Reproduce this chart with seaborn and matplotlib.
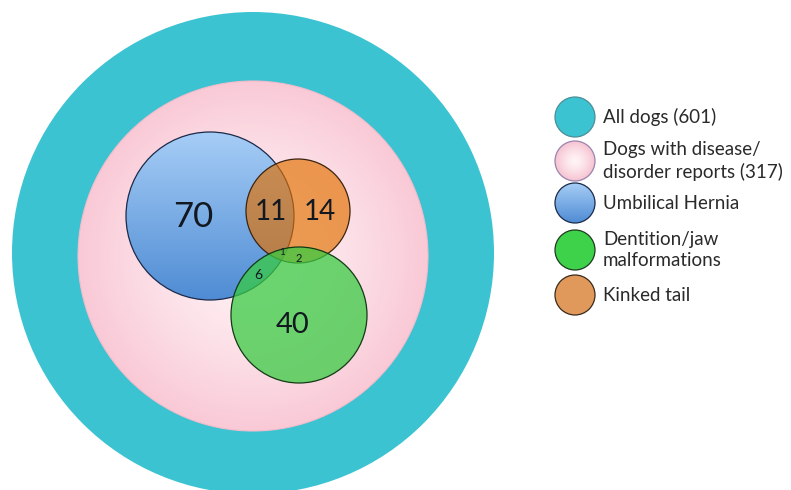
#!/usr/bin/env python3
"""Nested Euler diagram of dog disease/disorder reports."""

import matplotlib.pyplot as plt
import numpy as np
import seaborn as sns
from matplotlib.patches import Circle

# data
legend_labels = [
    "All dogs (601)",
    "Dogs with disease/\ndisorder reports (317)",
    "Umbilical Hernia",
    "Dentition/jaw\nmalformations",
    "Kinked tail",
]
region_counts = [70, 11, 14, 40, 6, 1, 2]
region_names = ["hernia", "hernia+tail", "tail", "jaw", "hernia+jaw", "all three", "tail+jaw"]

# layout (pixel space of the figure)
W, H = 791, 490
rings = {"all": (253, 253, 241), "reports": (253, 256, 175)}
sets = {"hernia": (210, 216, 84), "tail": (298, 211, 52), "jaw": (299, 315, 68)}
label_pos = [(193, 217, 25), (271, 212, 20), (320, 212, 20), (293, 325, 21),
             (258, 275, 10), (282, 252, 7), (299, 258, 8)]

TEAL = "#3cc3d2"


def gradient_circle(ax, cx, cy, r, top, bottom, radial=False, edge=None, lw=0.8, z=2):
    top = np.array(sns.color_palette([top])[0])
    bottom = np.array(sns.color_palette([bottom])[0])
    n = 200
    if radial:
        yy, xx = np.mgrid[-1:1:n * 1j, -1:1:n * 1j]
        t = np.clip(np.hypot(xx, yy), 0, 1)[..., None] ** 1.4
    else:
        t = np.linspace(0, 1, n)[:, None, None] * np.ones((1, 2, 1))
    img = top * (1 - t) + bottom * t
    clip = Circle((cx, cy), r, transform=ax.transData, facecolor="none", edgecolor="none")
    ax.add_patch(clip)
    im = ax.imshow(img, extent=(cx - r, cx + r, cy + r, cy - r), origin="upper",
                   interpolation="bilinear", zorder=z, aspect="auto")
    im.set_clip_path(clip)
    if edge:
        ax.add_patch(Circle((cx, cy), r, facecolor="none", edgecolor=edge, lw=lw, zorder=z + 0.5))


def main() -> None:
    sns.set_theme(style="white")
    plt.rcParams["font.family"] = ["Lato", "DejaVu Sans"]

    fig = plt.figure(figsize=(W / 100, H / 100), dpi=100)
    ax = fig.add_axes([0, 0, 1, 1])
    ax.set_xlim(0, W)
    ax.set_ylim(H, 0)
    ax.set_axis_off()

    # outer rings
    cx, cy, r = rings["all"]
    ax.add_patch(Circle((cx, cy), r, facecolor=TEAL, edgecolor="none", zorder=1))
    cx, cy, r = rings["reports"]
    gradient_circle(ax, cx, cy, r, "#fff2f5", "#f9c9d6", radial=True, edge="#f0bccb", z=2)

    # sets
    cx, cy, r = sets["hernia"]
    gradient_circle(ax, cx, cy, r, "#a6cdf6", "#4f8cd4", edge="#1b2a4a", lw=0.9, z=3)
    cx, cy, r = sets["tail"]
    ax.add_patch(Circle((cx, cy), r, facecolor=(0.89, 0.44, 0.0, 0.66),
                        edgecolor="#3b2410", lw=0.9, zorder=4))
    cx, cy, r = sets["jaw"]
    ax.add_patch(Circle((cx, cy), r, facecolor=(0.22, 0.80, 0.26, 0.74),
                        edgecolor="#123a14", lw=0.9, zorder=5))

    for (x, y, fs), n in zip(label_pos, region_counts):
        ax.text(x, y, str(n), fontsize=fs, ha="center", va="center",
                color="#111820", zorder=6)

    # legend
    lx, lr = 575, 20
    ly = [117, 161, 203, 250, 295]
    ax.add_patch(Circle((lx, ly[0]), lr, facecolor=TEAL, edgecolor="#4a8f98", lw=0.9, zorder=3))
    gradient_circle(ax, lx, ly[1], lr, "#fff4f6", "#f6c2d0", radial=True, edge="#9a84b0", lw=0.9)
    gradient_circle(ax, lx, ly[2], lr, "#a6cdf6", "#4f8cd4", edge="#1b2a4a", lw=0.9)
    ax.add_patch(Circle((lx, ly[3]), lr, facecolor="#3dd24a", edgecolor="#1e3a20", lw=0.9, zorder=3))
    ax.add_patch(Circle((lx, ly[4]), lr, facecolor="#e0995a", edgecolor="#3b2a1c", lw=0.9, zorder=3))
    for y, label in zip(ly, legend_labels):
        ax.text(603, y, label, fontsize=13.5, ha="left", va="center",
                color="#2a2a2a", linespacing=1.35, zorder=6)

    fig.savefig("out.png", dpi=100)
    plt.close(fig)


if __name__ == "__main__":
    main()
